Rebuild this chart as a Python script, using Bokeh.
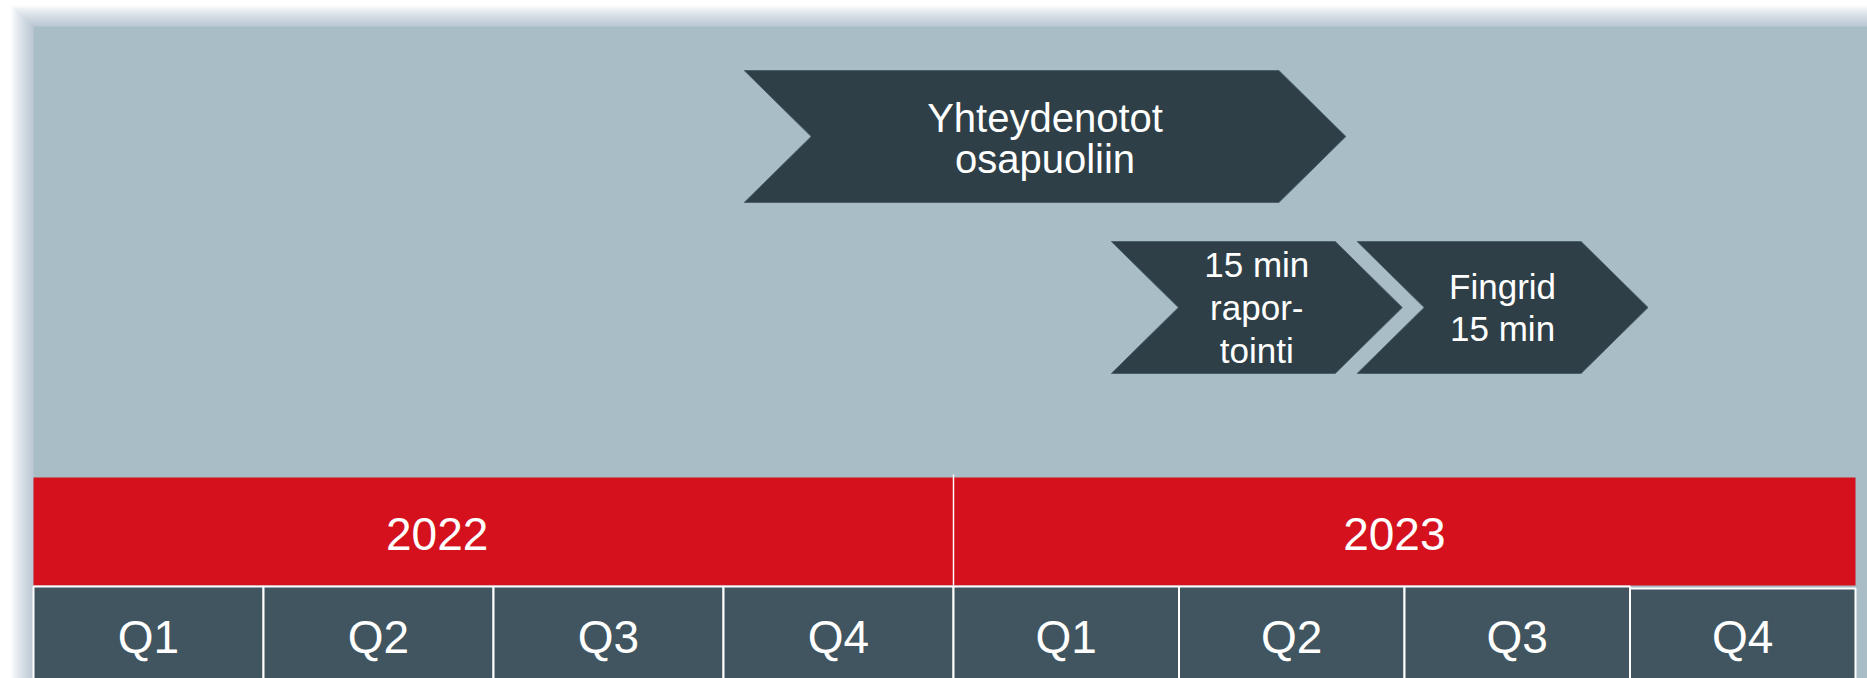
from bokeh.plotting import figure
from bokeh.models import Range1d, ColumnDataSource
from bokeh.core.properties import value
from bokeh.embed import file_html
from bokeh.resources import INLINE

# ---------------- data ----------------
years = ["2022", "2023"]
quarters = ["Q1", "Q2", "Q3", "Q4"]
tasks = ["Yhteydenotot\nosapuoliin", "15 min\nrapor-\ntointi", "Fingrid\n15 min"]
task_start = [3.09, 4.70, 5.79]   # in quarters from start of 2022 Q1
task_end = [5.74, 5.99, 7.08]
task_row = [0, 1, 1]

# ---------------- layout ----------------
W, H = 1867, 678
YEAR_PX = [(33, 953), (953, 1855)]   # pixel span of each year block


def qx(t):
    """quarter position -> horizontal px position (each year block is linear)"""
    yi = min(int(t // 4), len(YEAR_PX) - 1)
    a, b = YEAR_PX[yi]
    return a + (t - 4 * yi) * (b - a) / 4


FONT = value("Liberation Sans")
PANEL = "#A8BDC5"
RED = "#D4111D"
QBOX = "#40555F"
CHEV = "#2E3F48"

row_top = {0: 70, 1: 241}
row_bot = {0: 202, 1: 373}
row_font = {0: "40px", 1: "35px"}
row_lh = {0: 0.93, 1: 1.09}
NOTCH = 67

p = figure(width=W, height=H, x_range=Range1d(0, W), y_range=Range1d(H, 0),
           output_backend="svg", toolbar_location=None, min_border=0,
           x_axis_location=None, y_axis_location=None)
p.grid.visible = False
p.outline_line_color = None
p.background_fill_color = "white"
p.border_fill_color = "white"

# soft shadow around panel
for k in range(16, 0, -1):
    off = k * 1.4
    p.quad(left=33 - off, right=W + 10, top=26 - off * 0.95, bottom=H + 50,
           fill_color="#8aa1ad", fill_alpha=0.04, line_color=None)

# panel
p.quad(left=33, right=W + 10, top=26, bottom=H + 50, fill_color=PANEL, line_color=None)

# year band
ny = len(years)
nq = len(quarters)
p.quad(left=[qx(i * nq) for i in range(ny)],
       right=[qx((i + 1) * nq - 1e-9) for i in range(ny)],
       top=477, bottom=585, fill_color=RED, line_color=None)
year_label_offset = [1.755, 1.955]
p.text(x=[qx(i * nq + year_label_offset[i]) for i in range(ny)], y=533, text=years,
       text_align="center", text_baseline="middle", text_font=FONT,
       text_font_size="46px", text_color="white")
p.segment(x0=[qx(4)], y0=[474], x1=[qx(4)], y1=[585], line_color="white", line_width=1.5)

# quarter boxes
ql, qr, qt, qlab, qxs = [], [], [], [], []
for yi in range(ny):
    for qi, q in enumerate(quarters):
        idx = yi * nq + qi
        ql.append(qx(idx))
        qr.append(qx(idx + 1 - 1e-9))
        qt.append(588 if idx == ny * nq - 1 else 586)
        qlab.append(q)
        qxs.append(qx(idx + 0.5))
p.quad(left=ql, right=qr, top=qt, bottom=H + 50, fill_color=QBOX,
       line_color="white", line_width=2)
p.text(x=qxs, y=636, text=qlab, text_align="center", text_baseline="middle",
       text_font=FONT, text_font_size="46px", text_color="white")

# chevrons
xs, ys = [], []
for s, e, r in zip(task_start, task_end, task_row):
    t, b = row_top[r], row_bot[r]
    m = (t + b) / 2
    sx, ex = qx(s), qx(e)
    xs.append([sx, ex - NOTCH, ex, ex - NOTCH, sx, sx + NOTCH])
    ys.append([t, t, m, b, b, m])
p.patches(xs=xs, ys=ys, fill_color=CHEV, line_color="#4a5f69", line_width=1)

for r in (0, 1):
    idx = [i for i in range(len(tasks)) if task_row[i] == r]
    src = ColumnDataSource(dict(
        x=[(qx(task_start[i]) + qx(task_end[i])) / 2 for i in idx],
        y=[(row_top[r] + row_bot[r]) / 2 + (2 if r == 0 else 0) for i in idx],
        t=[tasks[i] for i in idx]))
    p.text(x="x", y="y", text="t", source=src, text_align="center",
           text_baseline="middle", text_font=FONT, text_font_size=row_font[r],
           text_color="white", text_line_height=row_lh[r])

open("out.html", "w").write(file_html(p, INLINE))
